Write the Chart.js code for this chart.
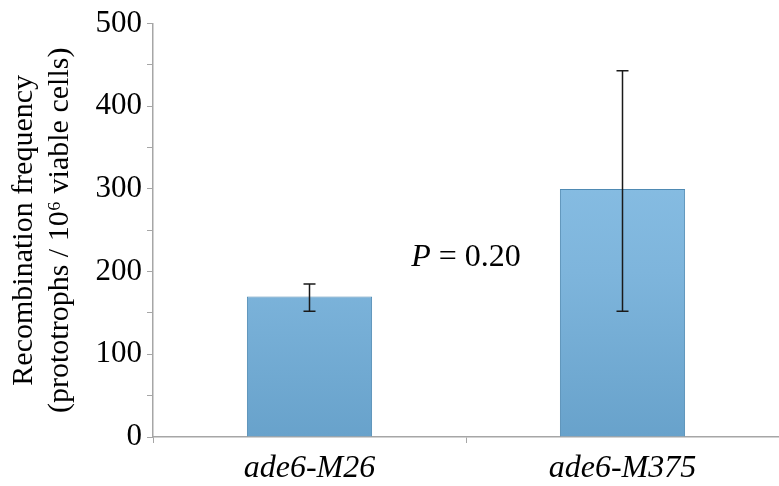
<!DOCTYPE html>
<html>
<head>
<meta charset="utf-8">
<script src="https://cdn.jsdelivr.net/npm/chart.js@4/dist/chart.umd.min.js"></script>
<style>
  html, body { margin: 0; padding: 0; background: #fff; }
  #wrap { width: 779px; height: 486px; }
</style>
</head>
<body>
<div id="wrap"><canvas id="chart" width="779" height="486"></canvas></div>
<script>
var categories = ['ade6-M26', 'ade6-M375'];
var frequency = [170, 300];
var errLow = [152, 152];
var errHigh = [185, 443];
var yTicks = [0, 100, 200, 300, 400, 500];
var pLabel = '= 0.20';

var serif = '"Liberation Serif", "Times New Roman", serif';
var axisGrey = '#a6a6a6';

function barFill(ctx) {
    var area = ctx.chart.chartArea;
    if (!area) return '#7fb6de';
    var g = ctx.chart.ctx.createLinearGradient(0, area.top, 0, area.bottom);
    g.addColorStop(0, '#93c8ec');
    g.addColorStop(0.6, '#7eb5dc');
    g.addColorStop(1, '#68a2cb');
    return g;
}

// error bars drawn through the scales
var errorBars = {
    id: 'errorBars',
    afterDatasetsDraw: function(chart) {
        var c = chart.ctx, xs = chart.scales.x, ys = chart.scales.y;
        c.save();
        c.strokeStyle = '#1a1a1a';
        c.lineWidth = 1.5;
        for (var i = 0; i < categories.length; i++) {
            var x = xs.getPixelForValue(i);
            var top = ys.getPixelForValue(errHigh[i]);
            var bot = ys.getPixelForValue(errLow[i]);
            c.beginPath();
            c.moveTo(x, top); c.lineTo(x, bot);
            c.moveTo(x - 6, top); c.lineTo(x + 6, top);
            c.moveTo(x - 6, bot); c.lineTo(x + 6, bot);
            c.stroke();
        }
        c.restore();
    }
};

// "P = 0.20" between the bars
var pValue = {
    id: 'pValue',
    afterDraw: function(chart) {
        var c = chart.ctx, xs = chart.scales.x, ys = chart.scales.y;
        var x = (xs.getPixelForValue(0) + xs.getPixelForValue(1)) / 2;
        var y = ys.getPixelForValue(217);
        c.save();
        c.fillStyle = '#000';
        c.textBaseline = 'middle';
        c.font = 'italic 32px ' + serif;
        var pw = c.measureText('P ').width;
        c.font = '32px ' + serif;
        var rw = c.measureText(pLabel).width;
        var x0 = x - (pw + rw) / 2;
        c.font = 'italic 32px ' + serif;
        c.fillText('P', x0, y);
        c.font = '32px ' + serif;
        c.fillText(pLabel, x0 + pw, y);
        c.restore();
    }
};

new Chart(document.getElementById('chart'), {
    type: 'bar',
    data: {
        labels: categories,
        datasets: [{
            data: frequency,
            backgroundColor: barFill,
            borderColor: '#4f8ab3',
            borderWidth: 1,
            categoryPercentage: 0.8,
            barPercentage: 0.5
        }]
    },
    options: {
        responsive: false,
        animation: false,
        layout: { padding: { top: 22, right: 0, bottom: 0, left: 0 } },
        plugins: { legend: { display: false }, tooltip: { enabled: false } },
        scales: {
            x: {
                grid: { display: true, drawOnChartArea: false, offset: true, color: axisGrey, tickLength: 6 },
                border: { color: axisGrey, width: 1.5 },
                ticks: { color: '#000', font: { family: serif, size: 32, style: 'italic' }, padding: 6 },
                afterFit: function(s) { s.height = 49; }
            },
            y: {
                min: 0, max: 500,
                grid: { display: true, drawOnChartArea: false, color: axisGrey, tickLength: 6 },
                border: { color: axisGrey, width: 1.5 },
                afterBuildTicks: function(s) {
                    var t = [];
                    for (var v = 0; v <= 500; v += 50) t.push({ value: v });
                    s.ticks = t;
                },
                ticks: {
                    autoSkip: false,
                    color: '#000',
                    font: { family: serif, size: 31 },
                    padding: 5,
                    callback: function(v) { return yTicks.indexOf(v) >= 0 ? String(v) : ''; }
                },
                title: {
                    display: true,
                    text: ['Recombination frequency', '(prototrophs / 10\u2076 viable cells)'],
                    color: '#000',
                    font: { family: serif, size: 30, lineHeight: 1.2 },
                    padding: { top: 6, bottom: 4 }
                },
                afterFit: function(s) { s.width = 153; }
            }
        }
    },
    plugins: [errorBars, pValue]
});
</script>
</body>
</html>
